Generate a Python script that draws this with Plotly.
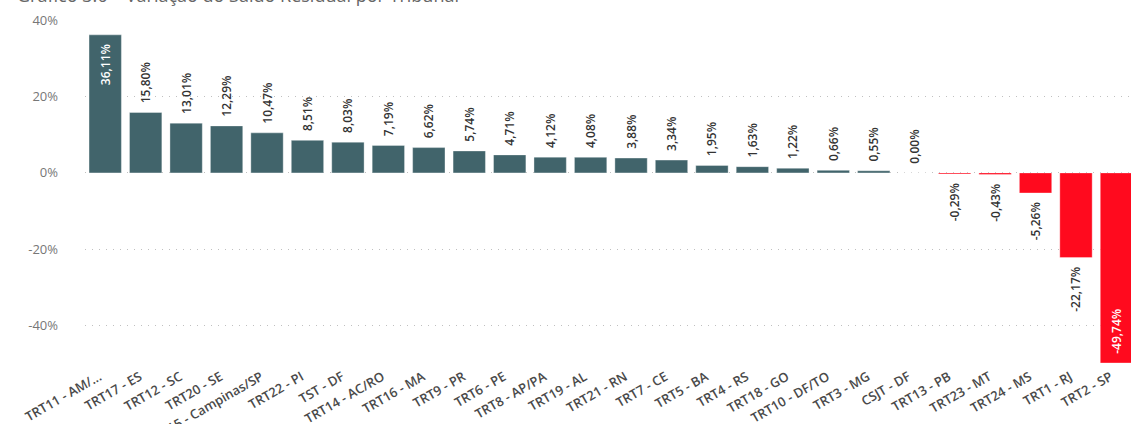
import plotly.graph_objects as go

categories = ["TRT11 - AM/...", "TRT17 - ES", "TRT12 - SC", "TRT20 - SE", "TRT15 - Campinas/SP",
              "TRT22 - PI", "TST - DF", "TRT14 - AC/RO", "TRT16 - MA", "TRT9 - PR", "TRT6 - PE",
              "TRT8 - AP/PA", "TRT19 - AL", "TRT21 - RN", "TRT7 - CE", "TRT5 - BA", "TRT4 - RS",
              "TRT18 - GO", "TRT10 - DF/TO", "TRT3 - MG", "CSJT - DF", "TRT13 - PB", "TRT23 - MT",
              "TRT24 - MS", "TRT1 - RJ", "TRT2 - SP"]
values = [36.11, 15.80, 13.01, 12.29, 10.47, 8.51, 8.03, 7.19, 6.62, 5.74, 4.71, 4.12, 4.08,
          3.88, 3.34, 1.95, 1.63, 1.22, 0.66, 0.55, 0.00, -0.29, -0.43, -5.26, -22.17, -49.74]
tick_vals = [40, 20, 0, -20, -40]
tick_text = ["40%", "20%", "0%", "-20%", "-40%"]
title_text = "Gráfico 3.6 – Variação do Saldo Residual por Tribunal"

POS_COLOR = "#41646B"
NEG_COLOR = "#FF0A1E"
NB = "\u00a0\u00a0"

labels, positions, colors = [], [], []
for v in values:
    s = f"{v:.2f}".replace(".", ",") + "%"
    big = abs(v) > 30
    if v >= 0:
        labels.append(s + NB if big else NB + s)
    else:
        labels.append(NB + s if big else s + NB)
    positions.append("inside" if big else "outside")
    colors.append(POS_COLOR if v >= 0 else NEG_COLOR)

fig = go.Figure(go.Bar(
    x=categories, y=values,
    marker=dict(color=colors, line=dict(color="rgba(255,255,255,0.35)", width=1)),
    text=labels, textposition=positions, textangle=-90,
    insidetextanchor="end", constraintext="none", cliponaxis=False,
    insidetextfont=dict(family="Open Sans", size=12, color="white", weight=600),
    outsidetextfont=dict(family="Open Sans", size=12, color="#333333", weight=600),
))

fig.update_layout(
    width=1131, height=424,
    margin=dict(l=85, r=0, t=20, b=61),
    plot_bgcolor="white", paper_bgcolor="white",
    bargap=0.2, showlegend=False,
    font=dict(family="Open Sans", color="#555555"),
    annotations=[dict(text=title_text, xref="paper", yref="paper", x=0, y=1,
                      xanchor="left", yanchor="bottom", xshift=-70, yshift=11,
                      showarrow=False, font=dict(size=18, color="#666666", family="Open Sans"))],
)
fig.update_xaxes(range=[-0.5, 25.36], tickangle=-30, showgrid=False, showline=False,
                 ticks="", automargin=False,
                 tickfont=dict(size=13, color="#4a4a4a", family="Open Sans", weight=600),
                 ticklabelstandoff=3, ticklabelshift=-6)
fig.update_yaxes(range=[-49.74, 40], tickvals=tick_vals, ticktext=tick_text,
                 showgrid=True, gridcolor="#c0c0c0", griddash="1px,6px", gridwidth=1,
                 zeroline=False, showline=False, ticks="", automargin=False,
                 tickfont=dict(size=13, color="#777777", family="Open Sans"),
                 ticklabelstandoff=26)

fig.write_html("out.html", config={"displayModeBar": False},
               post_script="document.body.style.margin='0';document.body.style.overflow='hidden';")
